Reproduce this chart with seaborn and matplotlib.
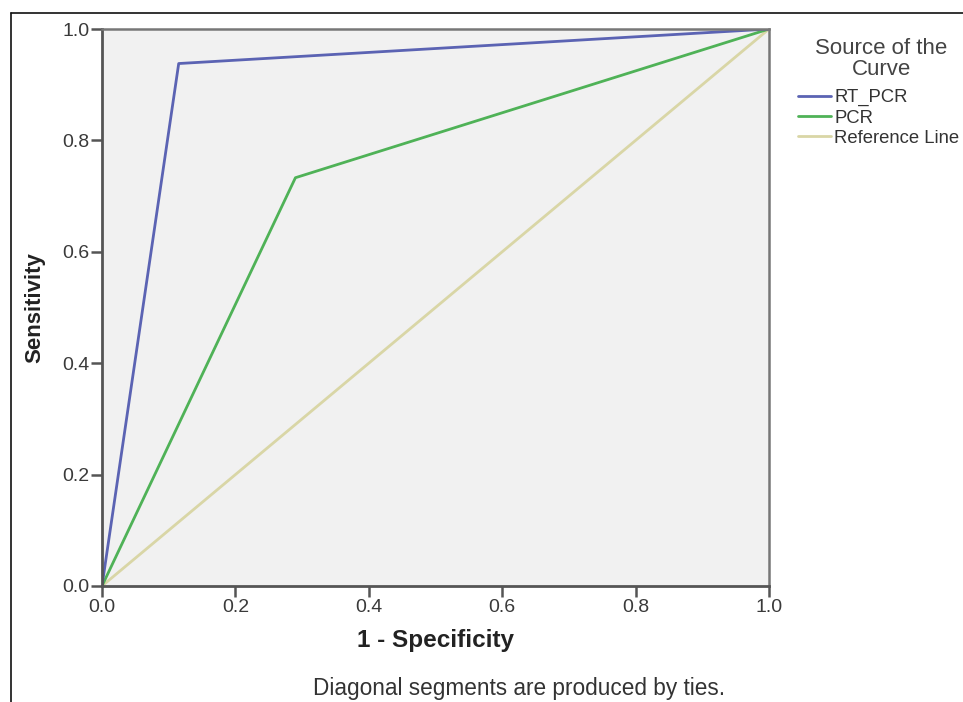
"""ROC curves for RT_PCR and PCR (SPSS-style output)."""

import matplotlib
matplotlib.use("Agg")
import matplotlib.pyplot as plt
import pandas as pd
import seaborn as sns
from matplotlib.lines import Line2D

# ROC points
rt_pcr_fpr = [0.0, 0.115, 1.0]
rt_pcr_tpr = [0.0, 0.938, 1.0]
pcr_fpr = [0.0, 0.29, 1.0]
pcr_tpr = [0.0, 0.733, 1.0]
ref_fpr = [0.0, 1.0]
ref_tpr = [0.0, 1.0]

curve_names = ["RT_PCR", "PCR", "Reference Line"]
curve_colors = ["#5b63b3", "#4fb257", "#d9d6a6"]
ticks = [0.0, 0.2, 0.4, 0.6, 0.8, 1.0]

df = pd.concat([
    pd.DataFrame({"fpr": rt_pcr_fpr, "tpr": rt_pcr_tpr, "curve": "RT_PCR"}),
    pd.DataFrame({"fpr": pcr_fpr, "tpr": pcr_tpr, "curve": "PCR"}),
    pd.DataFrame({"fpr": ref_fpr, "tpr": ref_tpr, "curve": "Reference Line"}),
], ignore_index=True)

sns.set_style("ticks")
plt.rcParams["font.family"] = ["Liberation Sans", "DejaVu Sans"]

W, H = 963, 702
fig = plt.figure(figsize=(W / 100, H / 100), dpi=100)
ax = fig.add_axes([102 / W, 1 - 586 / H, 667 / W, 557 / H])
ax.set_facecolor("#f1f1f1")

# reference line first so it sits underneath
palette = dict(zip(curve_names, curve_colors))
for name in ["Reference Line", "PCR", "RT_PCR"]:
    sub = df[df["curve"] == name]
    sns.lineplot(data=sub, x="fpr", y="tpr", color=palette[name],
                 linewidth=2.0, sort=False, estimator=None, ax=ax, legend=False)

ax.set_xlim(0, 1)
ax.set_ylim(0, 1)
ax.set_xticks(ticks)
ax.set_yticks(ticks)
ax.set_xticklabels([f"{t:.1f}" for t in ticks])
ax.set_yticklabels([f"{t:.1f}" for t in ticks])
ax.tick_params(direction="out", length=8, width=1.8, color="#555555",
               labelsize=14, labelcolor="#3a3a3a", pad=1)

for side in ["left", "bottom"]:
    ax.spines[side].set_color("#555555")
    ax.spines[side].set_linewidth(2)
for side in ["top", "right"]:
    ax.spines[side].set_visible(True)
    ax.spines[side].set_color("#777777")
    ax.spines[side].set_linewidth(1.8)

ax.set_xlabel("1 - Specificity", fontsize=17.5, fontweight="bold",
              color="#222222", labelpad=10)
ax.set_ylabel("Sensitivity", fontsize=16, fontweight="bold",
              color="#222222", labelpad=12)

# legend: title as its own text so line spacing can match
fig.text(881 / W, 1 - 59 / H, "Source of the\nCurve", ha="center",
         va="center", multialignment="center", linespacing=1.0,
         fontsize=16, color="#444444")
handles = [Line2D([0], [0], color=c, linewidth=2) for c in curve_colors]
leg = fig.legend(handles, curve_names, loc="upper left",
                 bbox_to_anchor=(798 / W, 1 - 89 / H),
                 frameon=False, fontsize=13.3, handlelength=1.8,
                 handletextpad=0.15, labelspacing=0.18,
                 borderpad=0, borderaxespad=0)
for t in leg.get_texts():
    t.set_color("#333333")

fig.text(519 / W, 1 - 689 / H, "Diagonal segments are produced by ties.",
         ha="center", va="center", fontsize=16.3, color="#333333")

# outer SPSS frame (top and left edges)
fig.add_artist(Line2D([11 / W, 1.0], [1 - 13 / H, 1 - 13 / H],
                      transform=fig.transFigure, color="#111111", linewidth=1.2))
fig.add_artist(Line2D([11 / W, 11 / W], [0.0, 1 - 13 / H],
                      transform=fig.transFigure, color="#111111", linewidth=1.2))

fig.savefig("out.png", dpi=100)
